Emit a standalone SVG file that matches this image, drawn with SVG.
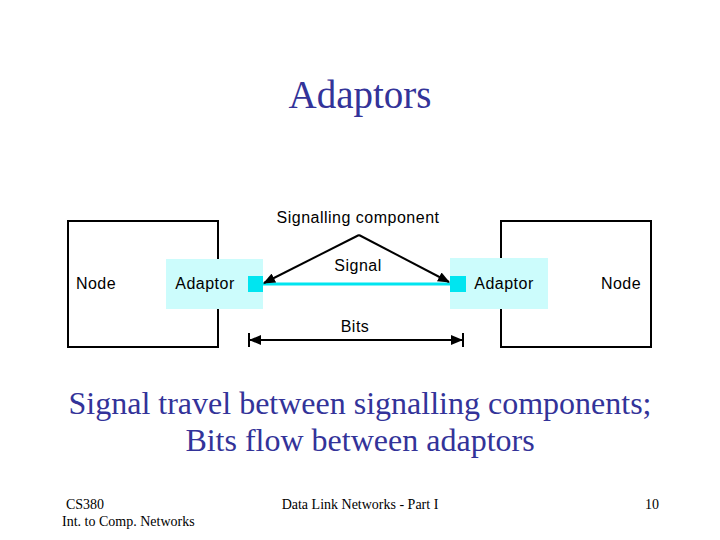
<svg xmlns="http://www.w3.org/2000/svg" width="720" height="540" viewBox="0 0 720 540">
<style>
.serif{font-family:"Liberation Serif","Times New Roman",serif}
.sans{font-family:"Liberation Sans",Arial,sans-serif;font-size:16px;letter-spacing:0.5px;fill:#000}
.blue{fill:#333399}
.box{fill:#fff;stroke:#000;stroke-width:2}
.adaptor{fill:#ccfcfc}
.port{fill:#00e5f0}
.line{stroke:#000;stroke-width:2;fill:none}
</style>
<defs>
<marker id="ah" markerWidth="12" markerHeight="10" refX="11" refY="5" orient="auto" markerUnits="userSpaceOnUse">
<path d="M0,0 L12,5 L0,10 Z" fill="#000"/>
</marker>
</defs>
<rect width="720" height="540" fill="#fff"/>
<text class="serif blue" x="360" y="108" font-size="39" text-anchor="middle">Adaptors</text>

<g id="node-left">
<rect class="box" x="68" y="221" width="150" height="126"/>
<text class="sans" x="96" y="289" text-anchor="middle">Node</text>
</g>
<g id="node-right">
<rect class="box" x="501" y="221" width="150" height="126"/>
<text class="sans" x="621" y="289" text-anchor="middle">Node</text>
</g>
<g id="adaptor-left">
<rect class="adaptor" x="166" y="259" width="97" height="50"/>
<text class="sans" x="205" y="289" text-anchor="middle">Adaptor</text>
<rect class="port" x="248" y="276" width="15" height="16"/>
</g>
<g id="adaptor-right">
<rect class="adaptor" x="450" y="258" width="98" height="51"/>
<text class="sans" x="504" y="289" text-anchor="middle">Adaptor</text>
<rect class="port" x="450" y="276" width="16" height="16"/>
</g>

<g id="connectors">
<line x1="263" y1="284" x2="450" y2="284" stroke="#00e5f0" stroke-width="3"/>
<line class="line" x1="359" y1="235" x2="264" y2="283" marker-end="url(#ah)"/>
<line class="line" x1="359" y1="235" x2="449" y2="282" marker-end="url(#ah)"/>
<line class="line" x1="355" y1="340" x2="250" y2="340" marker-end="url(#ah)"/>
<line class="line" x1="355" y1="340" x2="462" y2="340" marker-end="url(#ah)"/>
<line class="line" x1="249" y1="333" x2="249" y2="347"/>
<line class="line" x1="463" y1="333" x2="463" y2="347"/>
</g>

<text class="sans" x="358" y="223" text-anchor="middle">Signalling component</text>
<text class="sans" x="358" y="271" text-anchor="middle">Signal</text>
<text class="sans" x="355" y="332" text-anchor="middle">Bits</text>

<text class="serif blue" font-size="32" text-anchor="middle"><tspan x="360" y="414">Signal travel between signalling components;</tspan><tspan x="360" y="451">Bits flow between adaptors</tspan></text>

<g class="serif" font-size="14" fill="#000">
<text x="66" y="509">CS380</text>
<text x="62" y="526">Int. to Comp. Networks</text>
<text x="360" y="509" text-anchor="middle">Data Link Networks - Part I</text>
<text x="659" y="509" text-anchor="end">10</text>
</g>
</svg>
